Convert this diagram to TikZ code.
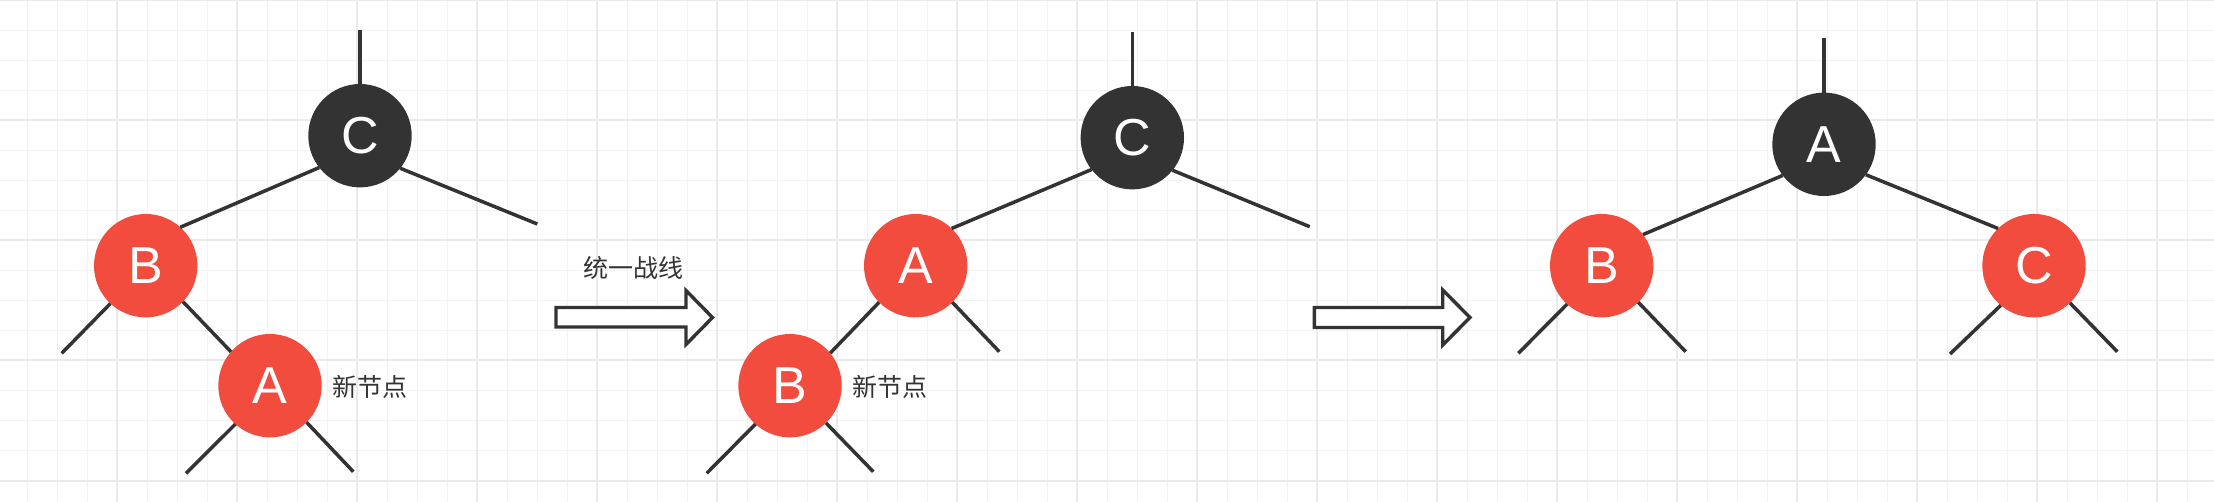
\documentclass[tikz,border=0pt]{standalone}
\usepackage{fontspec}
\setmainfont{Liberation Sans}
\newfontfamily\cjk{Noto Sans CJK SC}
\definecolor{nodered}{RGB}{242,76,63}
\definecolor{nodeblack}{RGB}{51,51,51}
\definecolor{edgegray}{RGB}{51,51,51}
\definecolor{gridminor}{RGB}{243,243,243}
\definecolor{gridmajor}{RGB}{234,234,234}
\definecolor{textgray}{RGB}{51,51,51}
\begin{document}
\begin{tikzpicture}[x=1pt,y=-1pt,
  rbnode/.style={circle,minimum size=103.4pt,inner sep=0pt,outer sep=0pt,text=white,font=\fontsize{52}{52}\selectfont},
  rednode/.style={rbnode,fill=nodered},
  blacknode/.style={rbnode,fill=nodeblack},
  treeline/.style={draw=edgegray,line width=3.5pt},
  cjklabel/.style={text=textgray,font=\cjk\fontsize{25}{25}\selectfont,inner sep=0pt},
  blockarrow/.style={draw=edgegray,line width=3.4pt,fill=white,line join=miter},
  minorgrid/.style={draw=gridminor,line width=1.6pt},
  majorgrid/.style={draw=gridmajor,line width=2pt},
]
\fill[white] (0,0) rectangle (2214,502);
\useasboundingbox (0,0) rectangle (2214,502);
% grid
\foreach \xx in {27.3,57.3,...,2217.3} \draw[minorgrid] (\xx,0) -- (\xx,502);
\foreach \yy in {0.5,30.5,...,500.5} \draw[minorgrid] (0,\yy) -- (2214,\yy);
\foreach \xx in {117.3,237.3,...,2157.3} \draw[majorgrid] (\xx,0) -- (\xx,502);
\foreach \yy in {0.5,120.5,...,480.5} \draw[majorgrid] (0,\yy) -- (2214,\yy);

% ---------- tree 1 ----------
\node[blacknode] (c1) at (360,135.7) {C};
\node[rednode] (b1) at (145.7,265.7) {B};
\node[rednode] (a1) at (270,385.7) {A};
\coordinate (c1top) at (360,30);
\coordinate (c1r) at (537.3,224);
\coordinate (b1l) at (61.7,353.3);
\coordinate (a1l) at (186,473.3);
\coordinate (a1r) at (353.3,471.7);
\draw[treeline] (c1top) -- (c1.north);
\draw[treeline] (c1.218) -- (b1.48);
\draw[treeline] (c1.-39) -- (c1r);
\draw[treeline] (b1.227) -- (b1l);
\draw[treeline] (b1.-44) -- (a1.139);
\draw[treeline] (a1.228) -- (a1l);
\draw[treeline] (a1.-45) -- (a1r);
\node[cjklabel,anchor=west] (new1) at (332.7,387.3) {新节点};

% ---------- arrow 1 ----------
\node[cjklabel] (lbl) at (633,268.3) {统一战线};
\draw[blockarrow] (556,307.5) -- (686,307.5) -- (686,290.5) -- (712.5,317.5)
  -- (686,344.5) -- (686,327) -- (556,327) -- cycle;

% ---------- tree 2 ----------
\node[blacknode] (c2) at (1132.3,137.7) {C};
\node[rednode] (a2) at (915.7,265.7) {A};
\node[rednode] (b2) at (790,385.7) {B};
\coordinate (c2top) at (1132.3,32.3);
\coordinate (c2r) at (1309.7,226.7);
\coordinate (a2r) at (999.3,351.7);
\coordinate (b2l) at (706.7,473.3);
\coordinate (b2r) at (873.3,471.7);
\draw[treeline] (c2top) -- (c2.north);
\draw[treeline] (c2.218) -- (a2.46);
\draw[treeline] (c2.-39) -- (c2r);
\draw[treeline] (a2.225) -- (b2.39);
\draw[treeline] (a2.-45) -- (a2r);
\draw[treeline] (b2.228) -- (b2l);
\draw[treeline] (b2.-46) -- (b2r);
\node[cjklabel,anchor=west] (new2) at (852.7,387.3) {新节点};

% ---------- arrow 2 ----------
\draw[blockarrow] (1314.4,307.5) -- (1442.7,307.5) -- (1442.7,290) -- (1470,317.5)
  -- (1442.7,345) -- (1442.7,327.5) -- (1314.4,327.5) -- cycle;

% ---------- tree 3 ----------
\node[blacknode] (a3) at (1824,144.3) {A};
\node[rednode] (b3) at (1601.7,265.7) {B};
\node[rednode] (c3) at (2034,265.7) {C};
\coordinate (a3top) at (1824,37.7);
\coordinate (b3l) at (1518.3,353.3);
\coordinate (b3r) at (1685.7,351.7);
\coordinate (c3l) at (1950,354);
\coordinate (c3r) at (2117.3,351.7);
\draw[treeline] (a3top) -- (a3.north);
\draw[treeline] (a3.217) -- (b3.37);
\draw[treeline] (a3.-36) -- (c3.134);
\draw[treeline] (b3.228) -- (b3l);
\draw[treeline] (b3.-45) -- (b3r);
\draw[treeline] (c3.230) -- (c3l);
\draw[treeline] (c3.-46) -- (c3r);
\end{tikzpicture}
\end{document}
